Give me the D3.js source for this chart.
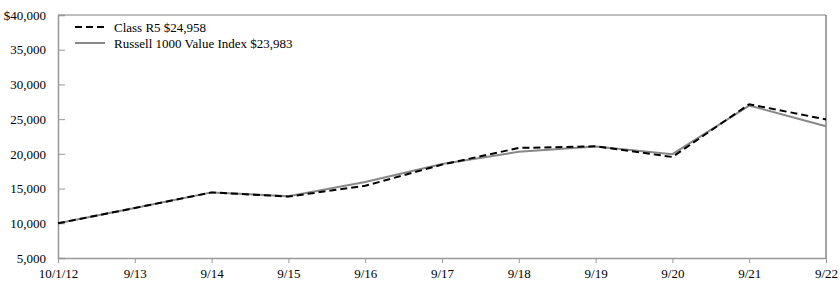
<!DOCTYPE html>
<html>
<head>
<meta charset="utf-8">
<script src="https://cdn.jsdelivr.net/npm/d3@7"></script>
<style>
  body { margin: 0; background: #fff; }
  svg text { font-family: "Liberation Serif", serif; fill: #000; }
</style>
</head>
<body>
<svg id="chart" width="840" height="287"></svg>
<script>
const dates = ["10/1/12", "9/13", "9/14", "9/15", "9/16", "9/17", "9/18", "9/19", "9/20", "9/21", "9/22"]
const classR5 = [10000, 12200, 14450, 13850, 15400, 18450, 20850, 21100, 19550, 27150, 24958]
const russell = [10000, 12200, 14450, 13900, 15950, 18550, 20300, 21050, 19950, 26950, 23983]
const yTicks = [5000, 10000, 15000, 20000, 25000, 30000, 35000, 40000]

const margin = { top: 15, right: 14, bottom: 29, left: 58 }
const width = 840, height = 287
const serif = "Liberation Serif"

const svg = d3.select("#chart")

const x = d3.scalePoint()
    .domain(dates)
    .range([margin.left, width - margin.right])

const y = d3.scaleLinear()
    .domain([5000, 40000])
    .range([height - margin.bottom, margin.top])

// frame
svg.append("line")
    .attr("x1", margin.left).attr("x2", width - margin.right)
    .attr("y1", margin.top).attr("y2", margin.top)
    .attr("stroke", "#aaa").attr("stroke-width", 1.5)
svg.append("line")
    .attr("x1", width - margin.right).attr("x2", width - margin.right)
    .attr("y1", margin.top).attr("y2", height - margin.bottom)
    .attr("stroke", "#666").attr("stroke-width", 1.2)

const yAxis = svg.append("g")
    .attr("transform", `translate(${margin.left},0)`)
    .call(d3.axisRight(y).tickValues(yTicks).tickSize(7)
        .tickFormat(d => d === 40000 ? "$" + d3.format(",")(d) : d3.format(",")(d)))
    .attr("font-family", serif)
yAxis.select(".domain").attr("stroke", "#999").attr("stroke-width", 1.5)
yAxis.selectAll(".tick line").attr("stroke", "#999")
yAxis.selectAll(".tick text")
    .attr("x", -12).attr("text-anchor", "end")
    .attr("font-family", serif)
    .attr("font-size", 13)

const xAxis = svg.append("g")
    .attr("transform", `translate(0,${height - margin.bottom})`)
    .call(d3.axisBottom(x).tickSize(5).tickSizeOuter(0))
    .attr("font-family", serif)
xAxis.select(".domain").attr("stroke", "#999").attr("stroke-width", 1.5)
xAxis.selectAll(".tick line").attr("stroke", "#999")
xAxis.selectAll(".tick text")
    .attr("font-family", serif)
    .attr("font-size", 13).attr("dy", "0.95em")

const line = d3.line()
    .x((d, i) => x(dates[i]))
    .y(d => y(d))

svg.append("path")
    .datum(russell)
    .attr("fill", "none")
    .attr("stroke", "#888")
    .attr("stroke-width", 2)
    .attr("d", line)

svg.append("path")
    .datum(classR5)
    .attr("fill", "none")
    .attr("stroke", "#000")
    .attr("stroke-width", 2)
    .attr("stroke-dasharray", "7,4")
    .attr("d", line)

// legend
const legend = [
    { label: "Class R5 $24,958", color: "#000", dash: "7,4" },
    { label: "Russell 1000 Value Index $23,983", color: "#888", dash: null }
]
const lg = svg.append("g").attr("transform", "translate(75,27)")
legend.forEach((d, i) => {
    const row = lg.append("g").attr("transform", `translate(0,${i * 16})`)
    row.append("line")
        .attr("x1", 0).attr("x2", 30)
        .attr("stroke", d.color).attr("stroke-width", 2)
        .attr("stroke-dasharray", d.dash)
    row.append("text")
        .attr("x", 39).attr("dy", "0.35em")
        .attr("font-family", serif)
        .attr("font-size", 13)
        .text(d.label)
})
</script>
</body>
</html>
